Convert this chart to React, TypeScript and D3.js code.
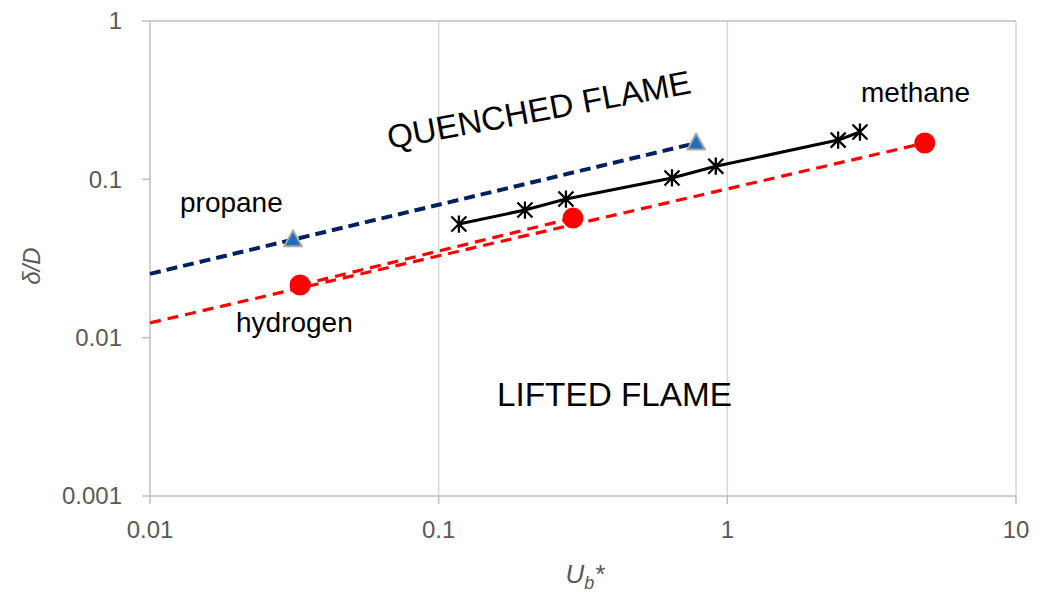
import React from "react";
import * as d3 from "d3";

const xTicks = [0.01, 0.1, 1, 10];
const yTicks = [0.001, 0.01, 0.1, 1];
const xTickLabels = ["0.01", "0.1", "1", "10"];
const yTickLabels = ["0.001", "0.01", "0.1", "1"];

const propaneX = [0.0313, 0.78];
const propaneY = [0.0414, 0.1695];
const propaneTrendX = [0.01, 0.78];
const propaneTrendY = [0.0253, 0.1695];

const hydrogenX = [0.0331, 0.292, 4.83];
const hydrogenY = [0.0215, 0.0569, 0.1695];
const hydrogenTrendX = [0.01, 4.83];
const hydrogenTrendY = [0.0124, 0.1695];
const hydrogenPairX = [0.0331, 0.292];
const hydrogenPairY = [0.0215, 0.0569];

const methaneX = [0.1175, 0.199, 0.276, 0.643, 0.912, 2.42, 2.88];
const methaneY = [0.0522, 0.064, 0.0751, 0.102, 0.121, 0.177, 0.199];

const W = 1042;
const H = 592;
const FONT = "'Liberation Sans', Arial, sans-serif";

export default function App() {
  const x = d3.scaleLog().domain([0.01, 10]).range([150, 1016]);
  const y = d3.scaleLog().domain([0.001, 1]).range([496, 21]);
  const line = d3
    .line<[number, number]>()
    .x((d) => x(d[0]))
    .y((d) => y(d[1]));
  const zip = (a: number[], b: number[]) => a.map((v, i) => [v, b[i]] as [number, number]);

  const grid = "#d9d9d9";
  const axisC = "#bfbfbf";
  const tickText = "#595959";

  const star = (cx: number, cy: number, r: number) =>
    `M${cx - r},${cy - r}L${cx + r},${cy + r}M${cx - r},${cy + r}L${cx + r},${cy - r}M${cx},${cy - r * 1.15}L${cx},${cy + r * 1.15}`;

  const tri = (cx: number, cy: number, s: number) =>
    `M${cx},${cy - s * 0.6}L${cx + s * 0.55},${cy + s * 0.4}L${cx - s * 0.55},${cy + s * 0.4}Z`;

  return (
    <div style={{ position: "fixed", left: 0, top: 0 }}>
      <svg width={W} height={H} style={{ display: "block", background: "#fff" }}>
        {xTicks.map((t, i) =>
          i === 0 ? null : (
            <line key={"gx" + t} x1={x(t)} x2={x(t)} y1={y(1)} y2={y(0.001)} stroke={grid} strokeWidth={1.5} />
          )
        )}
        <line x1={x(0.01)} x2={x(10)} y1={y(1)} y2={y(1)} stroke={axisC} strokeWidth={1.5} />
        <line x1={x(0.01)} x2={x(0.01)} y1={y(1)} y2={y(0.001)} stroke={axisC} strokeWidth={1.5} />
        <line x1={x(0.01)} x2={x(10)} y1={y(0.001)} y2={y(0.001)} stroke={axisC} strokeWidth={1.5} />
        {yTicks.map((t) => (
          <line key={"ty" + t} x1={x(0.01) - 8} x2={x(0.01)} y1={y(t)} y2={y(t)} stroke={axisC} strokeWidth={1.5} />
        ))}
        {xTicks.map((t) => (
          <line key={"tx" + t} x1={x(t)} x2={x(t)} y1={y(0.001)} y2={y(0.001) + 8} stroke={axisC} strokeWidth={1.5} />
        ))}
        {yTicks.map((t, i) => (
          <text key={"yl" + t} x={122} y={y(t)} dy="0.35em" textAnchor="end" fontFamily={FONT} fontSize={24} fill={tickText}>
            {yTickLabels[i]}
          </text>
        ))}
        {xTicks.map((t, i) => (
          <text key={"xl" + t} x={x(t)} y={530} dy="0.35em" textAnchor="middle" fontFamily={FONT} fontSize={24} fill={tickText}>
            {xTickLabels[i]}
          </text>
        ))}
        <text
          transform="translate(40,266) rotate(-90)"
          textAnchor="middle"
          fontFamily={FONT}
          fontSize={24}
          fontStyle="italic"
          fill={tickText}
        >
          δ/D
        </text>
        <text x={585} y={583} textAnchor="middle" fontFamily={FONT} fontSize={26} fontStyle="italic" fill={tickText}>
          U<tspan fontSize={18} dy={6}>b</tspan>
          <tspan dy={-6}>*</tspan>
        </text>

        <path d={line(zip(propaneTrendX, propaneTrendY)) || ""} fill="none" stroke="#002060" strokeWidth={4} strokeDasharray="11,6" />
        <path d={line(zip(hydrogenTrendX, hydrogenTrendY)) || ""} fill="none" stroke="#ff0000" strokeWidth={3.2} strokeDasharray="11,7" />
        <path d={line(zip(hydrogenPairX, hydrogenPairY)) || ""} fill="none" stroke="#ff0000" strokeWidth={3.2} strokeDasharray="11,7" />
        <path d={line(zip(methaneX, methaneY)) || ""} fill="none" stroke="#000" strokeWidth={3} />
        {methaneX.map((v, i) => (
          <path key={"m" + i} d={star(x(v), y(methaneY[i]), 7.5)} stroke="#000" strokeWidth={2.3} fill="none" />
        ))}
        {hydrogenX.map((v, i) => (
          <circle key={"h" + i} cx={x(v)} cy={y(hydrogenY[i])} r={10.5} fill="#ff0000" />
        ))}
        {propaneX.map((v, i) => (
          <path key={"p" + i} d={tri(x(v), y(propaneY[i]), 16)} fill="#1f6fbf" stroke="#a6a6a6" strokeWidth={2} strokeLinejoin="round" />
        ))}

        <text x={180} y={212} fontFamily={FONT} fontSize={28} fill="#000">propane</text>
        <text x={861} y={102} fontFamily={FONT} fontSize={28} fill="#000">methane</text>
        <text x={236} y={332} fontFamily={FONT} fontSize={28} fill="#000">hydrogen</text>
        <text x={497} y={406} fontFamily={FONT} fontSize={33.3} fill="#000">LIFTED FLAME</text>
        <text transform="translate(541,121) rotate(-10.5)" textAnchor="middle" fontFamily={FONT} fontSize={33} fill="#000">
          QUENCHED FLAME
        </text>
      </svg>
    </div>
  );
}
